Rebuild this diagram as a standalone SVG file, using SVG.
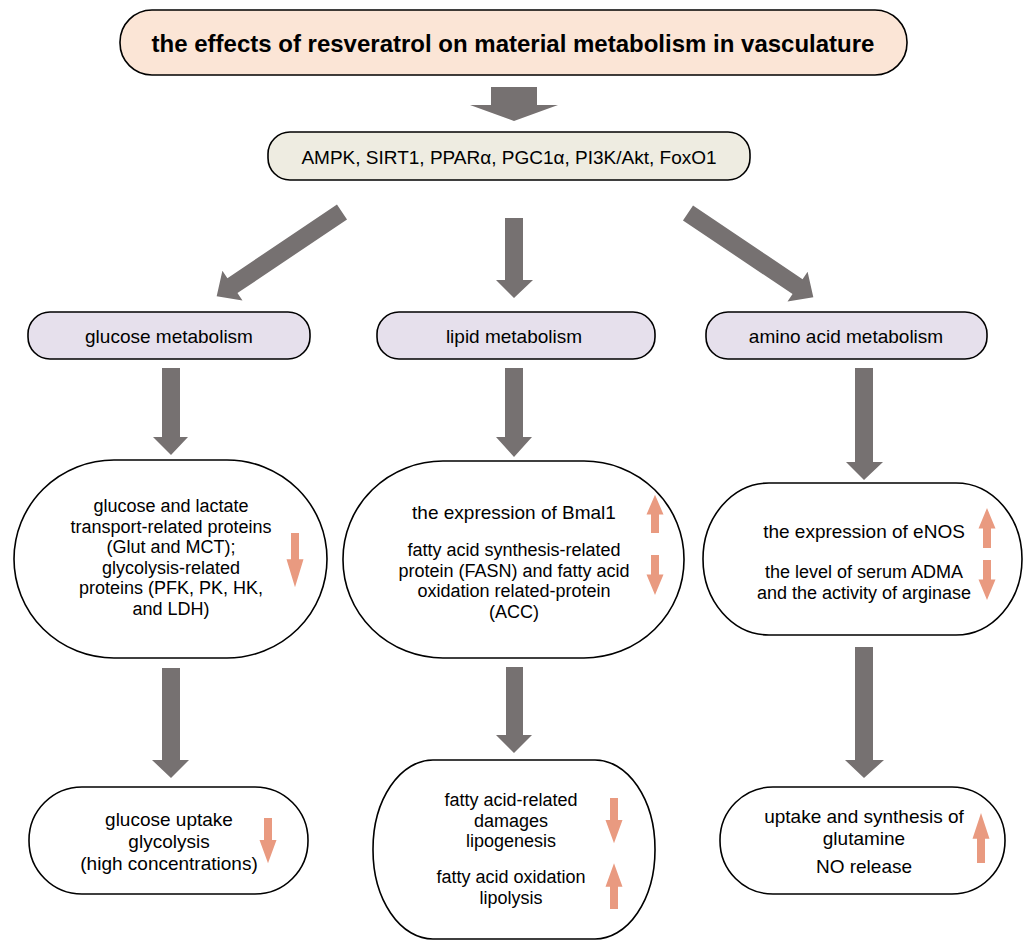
<svg xmlns="http://www.w3.org/2000/svg" width="1027" height="940" viewBox="0 0 1027 940">
<defs>
<style>
.bx{stroke:#000;stroke-width:1.6}
.t{font-family:"Liberation Sans",Arial,sans-serif;font-size:19px;fill:#000;text-anchor:middle}
.m{font-size:18px}
.tb{font-family:"Liberation Sans",Arial,sans-serif;font-size:24px;font-weight:bold;fill:#000;text-anchor:middle}
.ga{fill:#767171}
.sa{fill:#e99a80}
</style>
<path id="up" d="M-4,0 V-17 H-8.5 L0,-35 L8.5,-17 H4 V0 Z"/>
</defs>
<rect width="1027" height="940" fill="#fff"/>

<g id="connectors">
<path class="ga" d="M491,87 H537 V105 H558 L514,121 L470,105 H491 Z"/>
<path class="ga" transform="translate(342,212) rotate(146.1)" d="M0,-9 H132 V-18 L151,0 L132,18 V9 H0 Z"/>
<path class="ga" d="M505,218 H523 V280 H533 L514,298 L496,280 H505 Z"/>
<path class="ga" transform="translate(688,213) rotate(33.9)" d="M0,-9 H132 V-18 L151,0 L132,18 V9 H0 Z"/>
<path class="ga" d="M162,368 H180 V437 H188 L171,455 L153,437 H162 Z"/>
<path class="ga" d="M505,368 H523 V437 H532 L514,457 L496,437 H505 Z"/>
<path class="ga" d="M855,368 H873 V462 H883 L864,480 L846,462 H855 Z"/>
<path class="ga" d="M162,668 H180 V760 H189 L171,778 L152,760 H162 Z"/>
<path class="ga" d="M506,667 H523 V735 H532 L514,753 L496,735 H506 Z"/>
<path class="ga" d="M855,647 H873 V760 H884 L864,778 L845,760 H855 Z"/>
</g>

<g id="title">
<rect class="bx" x="120" y="10" width="787" height="65" rx="32" ry="32" fill="#fbe5d6"/>
<text class="tb" x="513" y="52">the effects of resveratrol on material metabolism in vasculature</text>
</g>

<g id="signaling">
<rect class="bx" x="268" y="132" width="482" height="48" rx="22" ry="22" fill="#eeece1"/>
<text class="t" x="509" y="164">AMPK, SIRT1, PPARα, PGC1α, PI3K/Akt, FoxO1</text>
</g>

<g id="glucose-metabolism">
<rect class="bx" x="28" y="312" width="282" height="47" rx="22" ry="22" fill="#e6e0ec"/>
<text class="t" x="169" y="343">glucose metabolism</text>
</g>
<g id="lipid-metabolism">
<rect class="bx" x="377" y="312" width="278" height="47" rx="22" ry="22" fill="#e6e0ec"/>
<text class="t" x="514" y="343">lipid metabolism</text>
</g>
<g id="amino-acid-metabolism">
<rect class="bx" x="706" y="312" width="281" height="47" rx="22" ry="22" fill="#e6e0ec"/>
<text class="t" x="846" y="343">amino acid metabolism</text>
</g>

<g id="glucose-proteins">
<rect class="bx" x="14" y="460" width="313" height="198" rx="100" ry="99" fill="#fff"/>
<text class="t m" x="171" y="512">glucose and lactate</text>
<text class="t m" x="171" y="532.5">transport-related proteins</text>
<text class="t m" x="171" y="553">(Glut and MCT);</text>
<text class="t m" x="171" y="573.5">glycolysis-related</text>
<text class="t m" x="171" y="594">proteins (PFK, PK, HK,</text>
<text class="t m" x="171" y="614.5">and LDH)</text>
<use href="#up" class="sa" transform="translate(295,533) scale(1,-1.55)"/>
</g>

<g id="lipid-proteins">
<rect class="bx" x="343" y="461" width="341" height="197" rx="100" ry="98" fill="#fff"/>
<text class="t" x="514" y="519">the expression of Bmal1</text>
<text class="t m" x="514" y="556">fatty acid synthesis-related</text>
<text class="t m" x="514" y="576.5">protein (FASN) and fatty acid</text>
<text class="t m" x="514" y="597">oxidation related-protein</text>
<text class="t m" x="514" y="617.5">(ACC)</text>
<use href="#up" class="sa" transform="translate(655,533) scale(1,1.09)"/>
<use href="#up" class="sa" transform="translate(655,555) scale(1,-1.14)"/>
</g>

<g id="amino-proteins">
<rect class="bx" x="703" y="483" width="319" height="152" rx="66" ry="76" fill="#fff"/>
<text class="t" x="864" y="538">the expression of eNOS</text>
<text class="t m" x="864" y="578">the level of serum ADMA</text>
<text class="t m" x="864" y="598.5">and the activity of arginase</text>
<use href="#up" class="sa" transform="translate(987,548) scale(1,1.14)"/>
<use href="#up" class="sa" transform="translate(987,560) scale(1,-1.14)"/>
</g>

<g id="glucose-outcome">
<rect class="bx" x="29" y="787" width="279" height="107" rx="53" ry="53" fill="#fff"/>
<text class="t" x="169" y="826">glucose uptake</text>
<text class="t" x="169" y="848">glycolysis</text>
<text class="t" x="169" y="870">(high concentrations)</text>
<use href="#up" class="sa" transform="translate(268,818) scale(1,-1.29)"/>
</g>

<g id="lipid-outcome">
<rect class="bx" x="373" y="760" width="282" height="179" rx="60" ry="89" fill="#fff"/>
<text class="t m" x="511" y="806">fatty acid-related</text>
<text class="t m" x="511" y="826.5">damages</text>
<text class="t m" x="511" y="847">lipogenesis</text>
<text class="t m" x="511" y="883">fatty acid oxidation</text>
<text class="t m" x="511" y="903.5">lipolysis</text>
<use href="#up" class="sa" transform="translate(614,798) scale(1,-1.29)"/>
<use href="#up" class="sa" transform="translate(614,909) scale(1,1.31)"/>
</g>

<g id="amino-outcome">
<rect class="bx" x="720" y="787" width="285" height="107" rx="53" ry="53" fill="#fff"/>
<text class="t" x="864" y="823">uptake and synthesis of</text>
<text class="t" x="864" y="845">glutamine</text>
<text class="t" x="864" y="873">NO release</text>
<use href="#up" class="sa" transform="translate(981,863) scale(1,1.43)"/>
</g>
</svg>
